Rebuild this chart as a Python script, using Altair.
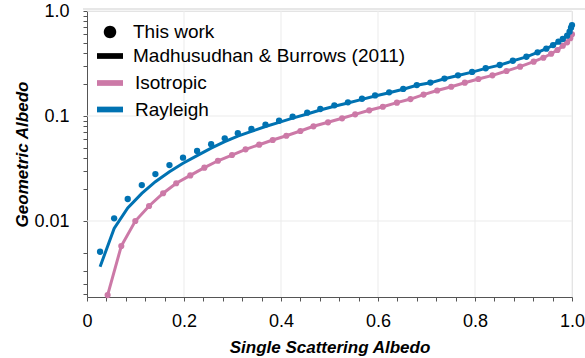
import altair as alt
import pandas as pd

# Rayleigh scattering: single scattering albedo grid and geometric albedo
ray_omega = [0.027, 0.056, 0.084, 0.113, 0.141, 0.170, 0.198, 0.227, 0.256, 0.284,
             0.311, 0.339, 0.368, 0.396, 0.424, 0.454, 0.481, 0.510, 0.538, 0.567,
             0.594, 0.623, 0.652, 0.680, 0.708, 0.737, 0.765, 0.794, 0.822, 0.851,
             0.878, 0.906, 0.929, 0.947, 0.961, 0.972, 0.981, 0.990, 0.995, 0.998, 1.0]
ray_this_work = [0.0051, 0.0106, 0.0162, 0.0220, 0.0280, 0.0341, 0.0401, 0.0464, 0.0538, 0.0613,
                 0.0685, 0.0752, 0.0827, 0.0902, 0.0985, 0.1075, 0.1166, 0.1265, 0.135, 0.146,
                 0.157, 0.168, 0.181, 0.197, 0.208, 0.227, 0.244, 0.263, 0.285, 0.306,
                 0.336, 0.367, 0.404, 0.438, 0.474, 0.510, 0.541, 0.582, 0.635, 0.693, 0.735]
ray_mb2011 = [0.00367, 0.0085, 0.0133, 0.0183, 0.0237, 0.0295, 0.0355, 0.0420, 0.0495, 0.0570,
              0.0644, 0.0714, 0.0794, 0.0870, 0.0955, 0.1045, 0.1140, 0.1240, 0.1330, 0.1440,
              0.1550, 0.1665, 0.180, 0.196, 0.207, 0.226, 0.243, 0.262, 0.284, 0.305,
              0.335, 0.366, 0.403, 0.437, 0.473, 0.509, 0.540, 0.581, 0.634, 0.692, 0.735]

# Isotropic scattering: both calculations agree
iso_omega = [0.0425, 0.0707, 0.0996, 0.128, 0.157, 0.184, 0.213, 0.242, 0.270, 0.299,
             0.327, 0.355, 0.383, 0.411, 0.440, 0.467, 0.497, 0.526, 0.553, 0.582,
             0.610, 0.639, 0.667, 0.694, 0.722, 0.751, 0.779, 0.807, 0.836, 0.865,
             0.893, 0.921, 0.941, 0.957, 0.970, 0.981, 0.990, 0.9965, 1.0]
iso_this_work = [0.00197, 0.00578, 0.0100, 0.0139, 0.0184, 0.0229, 0.0272, 0.0322, 0.0375, 0.0425,
                 0.0482, 0.0533, 0.0591, 0.0649, 0.0720, 0.0798, 0.0871, 0.0951, 0.1038, 0.1133,
                 0.1226, 0.134, 0.145, 0.160, 0.175, 0.190, 0.2076, 0.225, 0.244, 0.2685,
                 0.295, 0.329, 0.359, 0.392, 0.425, 0.467, 0.503, 0.55, 0.60]
iso_mb2011 = iso_this_work

# Axis ticks, labels and grid
x_ticks = [0.0, 0.04, 0.08, 0.12, 0.16, 0.2, 0.24, 0.28, 0.32, 0.36, 0.4, 0.44, 0.48,
           0.52, 0.56, 0.6, 0.64, 0.68, 0.72, 0.76, 0.8, 0.84, 0.88, 0.92, 0.96, 1.0]
x_grid = [0.2, 0.4, 0.6, 0.8, 1.0]
y_ticks = [0.002, 0.0025, 0.00333, 0.005, 0.01, 0.02, 0.03, 0.04, 0.05, 0.06, 0.07, 0.08, 0.09,
           0.1, 0.2, 0.3, 0.4, 0.5, 0.6, 0.7, 0.8, 0.9, 1.0]
y_grid = [0.01, 0.1, 1.0]

legend_sources = ["This work", "Madhusudhan & Burrows (2011)"]
legend_models = ["Isotropic", "Rayleigh"]
model_colors = ["#cc79a7", "#0072b2"]
PINK, BLUE = model_colors

FONT = "Liberation Sans"
AXIS_GREY = "#555555"
GRID_GREY = "#ebebeb"

dot_path = "M-0.48,0A0.48,0.48,0,1,1,0.48,0A0.48,0.48,0,1,1,-0.48,0Z"
bar_path = "M-1,-0.22H1V0.22H-1Z"

x_scale = alt.Scale(domain=[0, 1], nice=False, zero=False)
y_scale = alt.Scale(type="log", domain=[0.00189, 1.0], nice=False)

x_axis = alt.Axis(
    values=x_ticks,
    labelExpr="datum.value == 0 ? '0' : indexof([0.2, 0.4, 0.6, 0.8, 1.0], datum.value) >= 0 ? format(datum.value, '.1f') : ''",
    grid=False, tickSize=4, tickColor=AXIS_GREY, domainColor=AXIS_GREY,
    labelFont=FONT, labelFontSize=18, labelColor="black", labelPadding=11,
    labelFlush=False, labelOverlap=False,
    titleFont=FONT, titleFontSize=17, titleFontWeight="bold", titleFontStyle="italic",
    titleColor="black", titleX=242.5, titleY=50, titleBaseline="middle",
)
y_axis = alt.Axis(
    values=y_ticks,
    labelExpr="datum.value == 1 ? '1.0' : datum.value == 0.1 ? '0.1' : datum.value == 0.01 ? '0.01' : ''",
    grid=False, tickSize=4, tickColor=AXIS_GREY, domainColor=AXIS_GREY,
    labelFont=FONT, labelFontSize=18, labelColor="black", labelPadding=14,
    labelFlush=False, labelOverlap=False,
    titleFont=FONT, titleFontSize=17, titleFontWeight="bold", titleFontStyle="italic",
    titleColor="black", titleX=-65, titleY=143, titleBaseline="middle", titleAlign="center",
)


def xenc(field):
    return alt.X(f"{field}:Q", scale=x_scale, axis=x_axis, title="Single Scattering Albedo")


def yenc(field):
    return alt.Y(f"{field}:Q", scale=y_scale, axis=y_axis, title="Geometric Albedo")


ray_df = pd.DataFrame({"omega": ray_omega, "work": ray_this_work, "mb": ray_mb2011})
iso_df = pd.DataFrame({"omega": iso_omega, "work": iso_this_work, "mb": iso_mb2011})

grid_x = alt.Chart(pd.DataFrame({"g": x_grid})).mark_rule(color=GRID_GREY, strokeWidth=1).encode(x=xenc("g"))
grid_y = alt.Chart(pd.DataFrame({"g": y_grid})).mark_rule(color=GRID_GREY, strokeWidth=1).encode(y=yenc("g"))

top_line = alt.Chart(pd.DataFrame({"k": [0]})).mark_rule(color="#cfcfcf", strokeWidth=1).encode(
    x=alt.value(-4), x2=alt.value(500), y=alt.value(-2)
)

iso_line = alt.Chart(iso_df).mark_line(color=PINK, strokeWidth=3).encode(x=xenc("omega"), y=yenc("mb"))
iso_pts = alt.Chart(iso_df).mark_circle(color=PINK, size=38, opacity=1).encode(x=xenc("omega"), y=yenc("work"))
ray_line = alt.Chart(ray_df).mark_line(color=BLUE, strokeWidth=3).encode(x=xenc("omega"), y=yenc("mb"))
ray_pts = alt.Chart(ray_df).mark_circle(color=BLUE, size=40, opacity=1).encode(x=xenc("omega"), y=yenc("work"))

legend_common = dict(
    orient="none", title=None, padding=0, labelFont=FONT, labelFontSize=19, labelColor="black",
    symbolSize=676, symbolStrokeWidth=0, labelLimit=400,
)

source_legend = alt.Chart(pd.DataFrame({"source": legend_sources})).transform_filter("false").mark_point(
    filled=True, color="black", size=676, opacity=1
).encode(
    shape=alt.Shape(
        "source:N",
        scale=alt.Scale(domain=legend_sources, range=[dot_path, bar_path]),
        legend=alt.Legend(legendX=10, legendY=8, labelOffset=10, rowPadding=1,
                          symbolFillColor="black", **legend_common),
    )
)

model_legend = alt.Chart(pd.DataFrame({"model": legend_models})).transform_filter("false").mark_point(
    filled=True, size=676, opacity=1, shape=bar_path
).encode(
    color=alt.Color(
        "model:N",
        scale=alt.Scale(domain=legend_models, range=model_colors),
        legend=alt.Legend(legendX=10, legendY=59, labelOffset=12, rowPadding=3.5,
                          symbolType=bar_path, **legend_common),
    )
)

chart = alt.layer(
    grid_x, grid_y, top_line, iso_line, iso_pts, ray_line, ray_pts, source_legend, model_legend
).properties(
    width=485, height=286,
    autosize=alt.AutoSizeParams(type="none"),
    padding={"left": 87, "top": 11, "right": 13, "bottom": 61},
).resolve_legend(
    shape="independent", color="independent"
).configure_view(
    stroke=None
).configure(
    background="white"
)

chart.save("out.html", embed_options={"renderer": "svg", "actions": False})
